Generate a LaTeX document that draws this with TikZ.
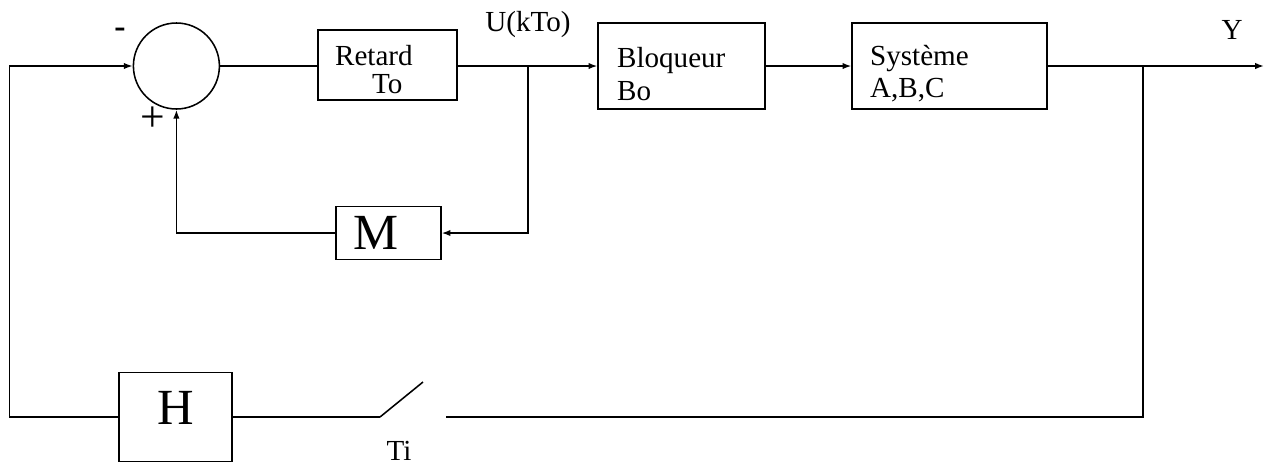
\documentclass[tikz,border=0pt]{standalone}
\usepackage{fontspec}
\setmainfont{Liberation Serif}
\usetikzlibrary{arrows.meta,positioning,calc}

\begin{document}
\begin{tikzpicture}[
    bloc/.style={draw, line width=1.1pt, inner sep=0pt},
    ligne/.style={line width=1.1pt},
    fleche/.style={->, line width=1.1pt},
    >={Latex[length=2.2mm,width=1.6mm]},
    every node/.style={font=\fontsize{20.7}{23}\selectfont}
]
    \useasboundingbox (0,0) rectangle (31.7,-11.65);

    % --- Comparateur ---
    \node[draw, circle, line width=1.1pt, minimum size=2.15cm, inner sep=0pt] (sum) at (4.41,-1.65) {};
    \node[font=\fontsize{24}{24}\selectfont\bfseries] (moins) at (3.0,-0.82) {-};
    \node[font=\fontsize{31}{31}\selectfont] (plus) at (3.83,-2.97) {+};
    \coordinate (gauche) at (0.24,-1.65);

    % --- Retard et M ---
    \node[bloc, minimum width=3.475cm, minimum height=1.75cm, text width=2.625cm, align=left] (retard) at (9.69,-1.62) {\rule{0pt}{0.72cm}Retard\\[-3pt]\hspace*{0.925cm}To};
    \node[bloc, minimum width=2.625cm, minimum height=1.325cm, text width=1.75cm, align=left, font=\fontsize{36}{36}\selectfont] (m) at (9.71,-5.825) {M};

    % --- Bloqueur, Systeme ---
    \node (ukto) at (13.2,-0.6) {U(kTo)};
    \coordinate (bu) at (13.2,-1.65);
    \node[bloc, minimum width=4.175cm, minimum height=2.15cm, text width=3.225cm, align=left] (bloq) at (17.04,-1.65) {\rule{0pt}{0.9cm}Bloqueur\\Bo};
    \node[bloc, minimum width=4.875cm, minimum height=2.15cm, text width=3.975cm, align=left] (sys) at (23.74,-1.65) {\rule{0pt}{0.9cm}Système\\A,B,C};
    \coordinate (by) at (28.575,-1.65);
    \coordinate (yout) at (31.6,-1.65);
    \node (y) at (30.8,-0.75) {Y};

    % --- Retour H ---
    \node[bloc, minimum width=2.825cm, minimum height=2.225cm, text depth=0.45cm, font=\fontsize{36}{36}\selectfont] (h) at (4.39,-10.425) {H};
    \coordinate (s1) at (9.5,-10.425);
    \coordinate (s2) at (10.575,-9.55);
    \coordinate (s3) at (11.15,-10.425);
    \node (ti) at (9.975,-11.275) {Ti};

    % Liaisons
    \draw[ligne] (sum.east) -- (retard.west |- sum.east);
    \draw[fleche] (retard.east |- bu) -- (bloq.west |- bu);
    \draw[fleche] (bloq.east) -- (sys.west);
    \draw[fleche] (sys.east) -- (yout);
    \draw[fleche] (bu) |- (m.east);
    \draw[fleche] (m.west) -| (sum.south);
    \draw[ligne] (by) |- (s3);
    \draw[ligne] (s1) -- (s2);
    \draw[ligne] (s1) -- (h.east);
    \draw[fleche] (h.west) -| (gauche) -- (sum.west);

\end{tikzpicture}
\end{document}
